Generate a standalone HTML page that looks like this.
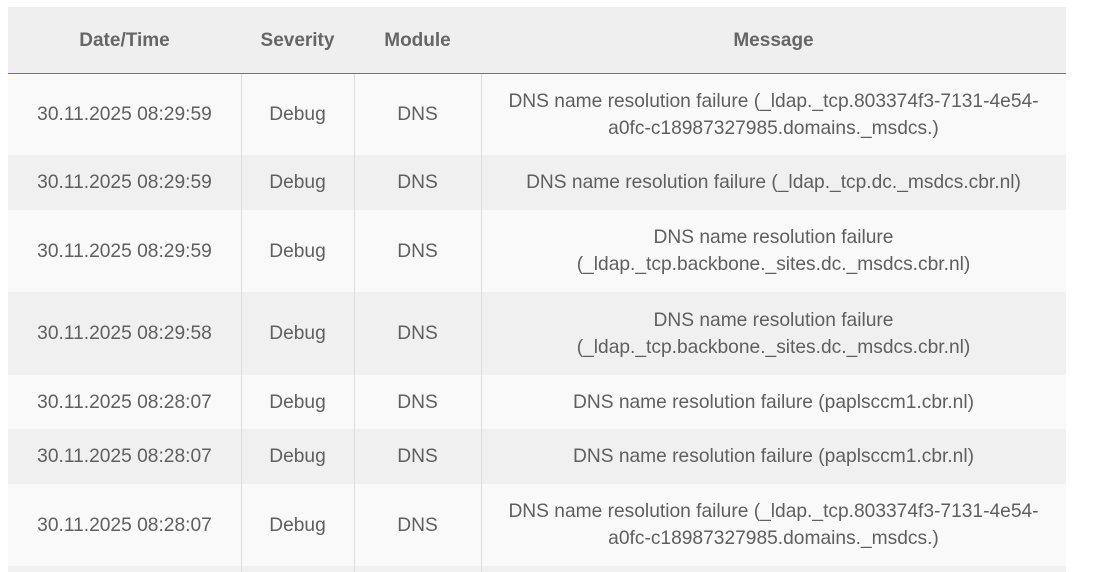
<!DOCTYPE html>
<html><head><style>
body{margin:0;width:1094px;height:572px;background:#fff;overflow:hidden;font-family:"Liberation Sans",Arial,sans-serif;color:#5f5f5f;}
.c{position:absolute;display:flex;align-items:center;justify-content:center;text-align:center;font-size:19.2px;line-height:27px;box-sizing:border-box;}
.h{font-weight:bold;font-size:19px;color:#666;}
.r{position:absolute;left:8px;width:1058px;}
.v{position:absolute;top:74px;height:498px;width:1px;background:#ddd;}
</style></head><body>
<div class="r" style="top:7px;height:66px;background:#efefef"></div>
<div class="r" style="top:73px;height:1px;background:#3aa03a"></div>
<div class="r" style="top:74px;height:81px;background:#f9f9f9"></div>
<div class="r" style="top:155px;height:55px;background:#f0f0f0"></div>
<div class="r" style="top:210px;height:82px;background:#f9f9f9"></div>
<div class="r" style="top:292px;height:83px;background:#f0f0f0"></div>
<div class="r" style="top:375px;height:54px;background:#f9f9f9"></div>
<div class="r" style="top:429px;height:55px;background:#f0f0f0"></div>
<div class="r" style="top:484px;height:82px;background:#f9f9f9"></div>
<div class="r" style="top:566px;height:6px;background:#f0f0f0"></div>
<div class="v" style="left:241px"></div>
<div class="v" style="left:354px"></div>
<div class="v" style="left:481px"></div>

<div class="c h" style="left:8px;width:233px;top:7px;height:66px">Date/Time</div>
<div class="c h" style="left:241px;width:113px;top:7px;height:66px">Severity</div>
<div class="c h" style="left:354px;width:127px;top:7px;height:66px">Module</div>
<div class="c h" style="left:481px;width:585px;top:7px;height:66px">Message</div>

<div class="c" style="left:8px;width:233px;top:74px;height:81px">30.11.2025 08:29:59</div>
<div class="c" style="left:241px;width:113px;top:74px;height:81px">Debug</div>
<div class="c" style="left:354px;width:127px;top:74px;height:81px">DNS</div>
<div class="c" style="left:481px;width:585px;top:74px;height:81px">DNS name resolution failure (_ldap._tcp.803374f3-7131-4e54-<br>a0fc-c18987327985.domains._msdcs.)</div>

<div class="c" style="left:8px;width:233px;top:155px;height:55px">30.11.2025 08:29:59</div>
<div class="c" style="left:241px;width:113px;top:155px;height:55px">Debug</div>
<div class="c" style="left:354px;width:127px;top:155px;height:55px">DNS</div>
<div class="c" style="left:481px;width:585px;top:155px;height:55px">DNS name resolution failure (_ldap._tcp.dc._msdcs.cbr.nl)</div>

<div class="c" style="left:8px;width:233px;top:210px;height:82px">30.11.2025 08:29:59</div>
<div class="c" style="left:241px;width:113px;top:210px;height:82px">Debug</div>
<div class="c" style="left:354px;width:127px;top:210px;height:82px">DNS</div>
<div class="c" style="left:481px;width:585px;top:210px;height:82px">DNS name resolution failure<br>(_ldap._tcp.backbone._sites.dc._msdcs.cbr.nl)</div>

<div class="c" style="left:8px;width:233px;top:292px;height:83px">30.11.2025 08:29:58</div>
<div class="c" style="left:241px;width:113px;top:292px;height:83px">Debug</div>
<div class="c" style="left:354px;width:127px;top:292px;height:83px">DNS</div>
<div class="c" style="left:481px;width:585px;top:292px;height:83px">DNS name resolution failure<br>(_ldap._tcp.backbone._sites.dc._msdcs.cbr.nl)</div>

<div class="c" style="left:8px;width:233px;top:375px;height:54px">30.11.2025 08:28:07</div>
<div class="c" style="left:241px;width:113px;top:375px;height:54px">Debug</div>
<div class="c" style="left:354px;width:127px;top:375px;height:54px">DNS</div>
<div class="c" style="left:481px;width:585px;top:375px;height:54px">DNS name resolution failure (paplsccm1.cbr.nl)</div>

<div class="c" style="left:8px;width:233px;top:429px;height:55px">30.11.2025 08:28:07</div>
<div class="c" style="left:241px;width:113px;top:429px;height:55px">Debug</div>
<div class="c" style="left:354px;width:127px;top:429px;height:55px">DNS</div>
<div class="c" style="left:481px;width:585px;top:429px;height:55px">DNS name resolution failure (paplsccm1.cbr.nl)</div>

<div class="c" style="left:8px;width:233px;top:484px;height:82px">30.11.2025 08:28:07</div>
<div class="c" style="left:241px;width:113px;top:484px;height:82px">Debug</div>
<div class="c" style="left:354px;width:127px;top:484px;height:82px">DNS</div>
<div class="c" style="left:481px;width:585px;top:484px;height:82px">DNS name resolution failure (_ldap._tcp.803374f3-7131-4e54-<br>a0fc-c18987327985.domains._msdcs.)</div>
</body></html>
